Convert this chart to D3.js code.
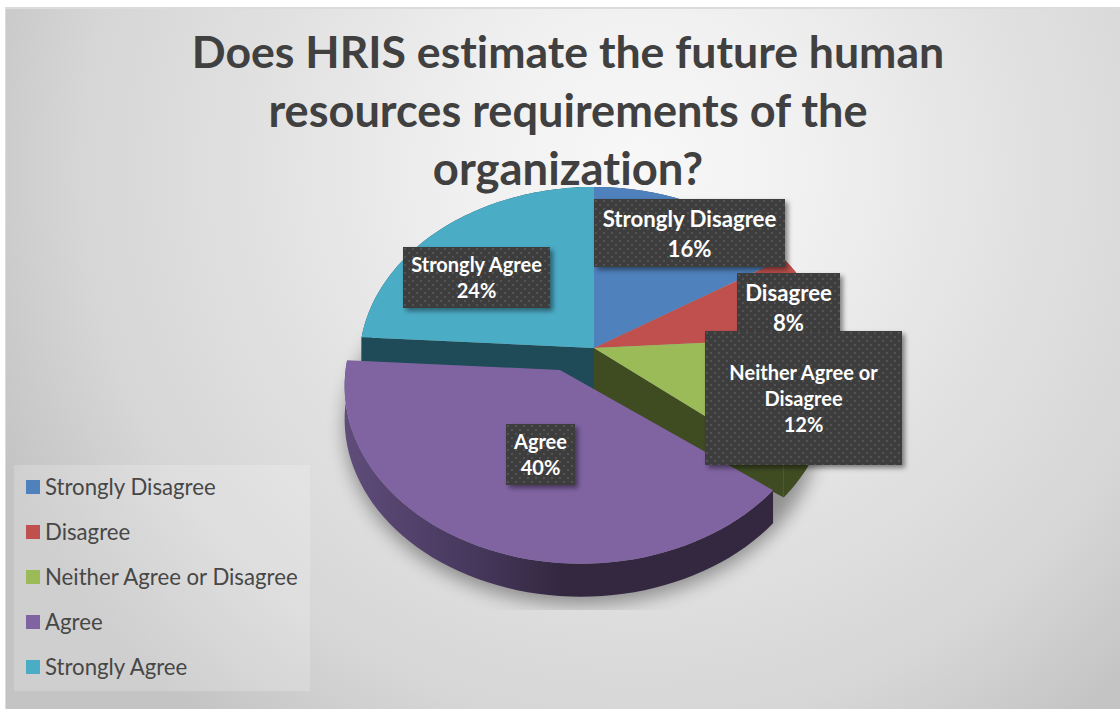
<!DOCTYPE html>
<html>
<head>
<meta charset="utf-8">
<script src="https://cdnjs.cloudflare.com/ajax/libs/d3/7.8.5/d3.min.js"></script>
<style>
html,body{margin:0;padding:0;background:#fff;}
svg{display:block;}
text{font-family:Lato,"Open Sans",sans-serif;font-variant-ligatures:none;}
</style>
</head>
<body>
<svg id="chart" width="1120" height="709"></svg>
<script>
const categories = ["Strongly Disagree","Disagree","Neither Agree or Disagree","Agree","Strongly Agree"];
const percentages = [16,8,12,40,24];
const topColors = ["#4f81bd","#c0504d","#9bbb59","#8064a2","#4bacc6"];
const sideColors = ["#2a4566","#672b29","#3f4c22","#332840","#1f4a57"];
const titleLines = ["Does HRIS estimate the future human","resources requirements of the","organization?"];
const titleSizes = [44.6,45.1,45.4];
const labelBoxes = [
  {lines:["Strongly Disagree","16%"], x:594, y:199, w:191, h:68, size:22.2},
  {lines:["Disagree","8%"], x:737, y:273, w:103, h:68, size:22.2},
  {lines:["Neither Agree or","Disagree","12%"], x:705, y:331, w:197, h:134, size:20},
  {lines:["Agree","40%"], x:506, y:424, w:69, h:61, size:20},
  {lines:["Strongly Agree","24%"], x:403, y:247, w:147, h:61, size:20}
];

const svg = d3.select("#chart");
const defs = svg.append("defs");

// Page backdrop
const bg = defs.append("radialGradient").attr("id","bg").attr("gradientUnits","userSpaceOnUse")
  .attr("cx",640).attr("cy",170).attr("r",700);
[[0,"#f8f8f8"],[0.25,"#f0f0f0"],[0.55,"#e1e1e1"],[0.8,"#d6d6d6"],[1,"#c4c4c4"]].forEach(([o,c])=>
  bg.append("stop").attr("offset",o).attr("stop-color",c));
defs.append("filter").attr("id","soft").attr("x","-20%").attr("y","-20%").attr("width","140%").attr("height","140%")
  .append("feGaussianBlur").attr("stdDeviation",9);
const boxShadow = defs.append("filter").attr("id","boxShadow").attr("x","-20%").attr("y","-20%").attr("width","150%").attr("height","150%");
boxShadow.append("feDropShadow").attr("dx",3).attr("dy",3).attr("stdDeviation",2.5).attr("flood-color","#000").attr("flood-opacity",0.45);
defs.append("clipPath").attr("id","shadowClip").append("rect").attr("x",0).attr("y",0).attr("width",1120).attr("height",610);

// Dotted fill of the data label boxes
const dots = defs.append("pattern").attr("id","dots").attr("patternUnits","userSpaceOnUse").attr("width",8).attr("height",8);
dots.append("rect").attr("width",8).attr("height",8).attr("fill","#3e3e3e");
dots.append("rect").attr("x",1).attr("y",1).attr("width",2).attr("height",2).attr("fill","#525252");
dots.append("rect").attr("x",5).attr("y",5).attr("width",2).attr("height",2).attr("fill","#525252");

// Wall shading across the exploded slice
const wall = defs.append("linearGradient").attr("id","agreeWall").attr("gradientUnits","userSpaceOnUse")
  .attr("x1",346).attr("x2",780).attr("y1",0).attr("y2",0);
[[0,"#5f4c7a"],[0.3,"#46375c"],[0.5,"#332840"],[1,"#332840"]].forEach(([o,c])=>
  wall.append("stop").attr("offset",o).attr("stop-color",c));

svg.append("rect").attr("width",1120).attr("height",709).attr("fill","#fff");
svg.append("rect").attr("x",5).attr("y",7).attr("width",1115).attr("height",702).attr("fill","#dcdcdc");
svg.append("rect").attr("x",6).attr("y",9).attr("width",1114).attr("height",700).attr("fill","url(#bg)");

// Tilted disc seen in slight perspective
const centre = {x:594, y:348};
const radius = 234, tilt = 0.742, viewer = 3000, depth = 33;
const explodeX = -12, explodeZ = 31;
const explodedIndex = 3;

function project(angle, r, ox, oz){
  const X = r*Math.sin(angle)+ox, Z = -r*Math.cos(angle)+oz;
  const s = 1/(1-Z/viewer);
  return [centre.x+X*s, centre.y+tilt*Z*s];
}
const slices = d3.pie().sort(null).value(d=>d)(percentages);
const line = d3.line();

function rim(slice, ox, oz, dy){
  return d3.range(0,61).map(i=>{
    const a = slice.startAngle+(slice.endAngle-slice.startAngle)*i/60;
    const p = project(a,radius,ox,oz);
    return [p[0],p[1]+dy];
  });
}
function face(slice, tip, ox, oz){
  return line([tip,...rim(slice,ox,oz,0)])+"Z";
}
function outerWall(slice, ox, oz){
  const upper = rim(slice,ox,oz,0), lower = rim(slice,ox,oz,depth).reverse();
  return line([...upper,...lower])+"Z";
}
// Cut face left open by the pulled-out slice; it runs down behind that slice's edge
function cutWall(angle){
  const p = project(angle,radius,0,0);
  return line([[centre.x,centre.y],p,[p[0],p[1]+depth],[centre.x,centre.y+depth+14]])+"Z";
}

// Soft ground shadow below the pie
const shadowSlice = {startAngle:0,endAngle:2*Math.PI};
svg.append("g").attr("clip-path","url(#shadowClip)").append("path")
  .attr("d",line(rim(shadowSlice,explodeX,explodeZ,depth+8))+"Z")
  .attr("fill","#000").attr("opacity",0.36).attr("filter","url(#soft)");

const pieGroup = svg.append("g");
const wholeIdx = slices.map((d,i)=>i).filter(i=>i!==explodedIndex);

// Outer walls and cut faces of the slices that stay in place
pieGroup.selectAll("path.outer").data(wholeIdx).join("path").attr("class","outer")
  .attr("d",i=>outerWall(slices[i],0,0)).attr("fill",i=>sideColors[i]);
pieGroup.append("path").attr("d",cutWall(slices[explodedIndex].endAngle)).attr("fill",sideColors[4]);
pieGroup.append("path").attr("d",cutWall(slices[explodedIndex].startAngle)).attr("fill",sideColors[2]);

// Top faces
pieGroup.selectAll("path.top").data(wholeIdx).join("path").attr("class","top")
  .attr("d",i=>face(slices[i],[centre.x,centre.y],0,0)).attr("fill",i=>topColors[i]);

// The pulled-out slice
const pulled = slices[explodedIndex];
pieGroup.append("path").attr("d",outerWall(pulled,explodeX,explodeZ)).attr("fill","url(#agreeWall)");
pieGroup.append("path").attr("d",face(pulled,[560,370],explodeX,explodeZ)).attr("fill",topColors[explodedIndex]);

// Legend
const legend = svg.append("g");
legend.append("rect").attr("x",14).attr("y",465).attr("width",296).attr("height",226).attr("fill","#fff").attr("opacity",0.2);
const rowY = d3.scalePoint().domain(categories).range([487,667]);
const rows = legend.selectAll("g").data(categories).join("g").attr("transform",d=>`translate(0,${rowY(d)})`);
rows.append("rect").attr("x",26).attr("y",-7).attr("width",14).attr("height",14).attr("fill",(d,i)=>topColors[i]);
rows.append("text").attr("x",45).attr("y",8).attr("font-size",22.2).attr("fill","#474747").text(d=>d);

// Data labels
const labels = svg.append("g").selectAll("g").data(labelBoxes).join("g").attr("transform",d=>`translate(${d.x},${d.y})`);
labels.append("rect").attr("width",d=>d.w).attr("height",d=>d.h).attr("fill","url(#dots)").attr("filter","url(#boxShadow)");
labels.each(function(d){
  const g = d3.select(this);
  const step = d.lines.length===3 ? 26 : (d.h>64 ? 30 : 26);
  const top = d.h/2 - step*(d.lines.length-1)/2 + d.size*0.34 + 1;
  d.lines.forEach((t,i)=>g.append("text").attr("x",d.w/2).attr("y",top+i*step)
    .attr("text-anchor","middle").attr("font-size",d.size).attr("font-weight",700).attr("fill","#fff").text(t));
});

// Title
svg.append("g").selectAll("text").data(titleLines).join("text")
  .attr("x",568).attr("y",(d,i)=>68+i*58.5).attr("text-anchor","middle")
  .attr("font-size",(d,i)=>titleSizes[i]).attr("font-weight",700).attr("fill","#404040").text(d=>d);
</script>
</body>
</html>
